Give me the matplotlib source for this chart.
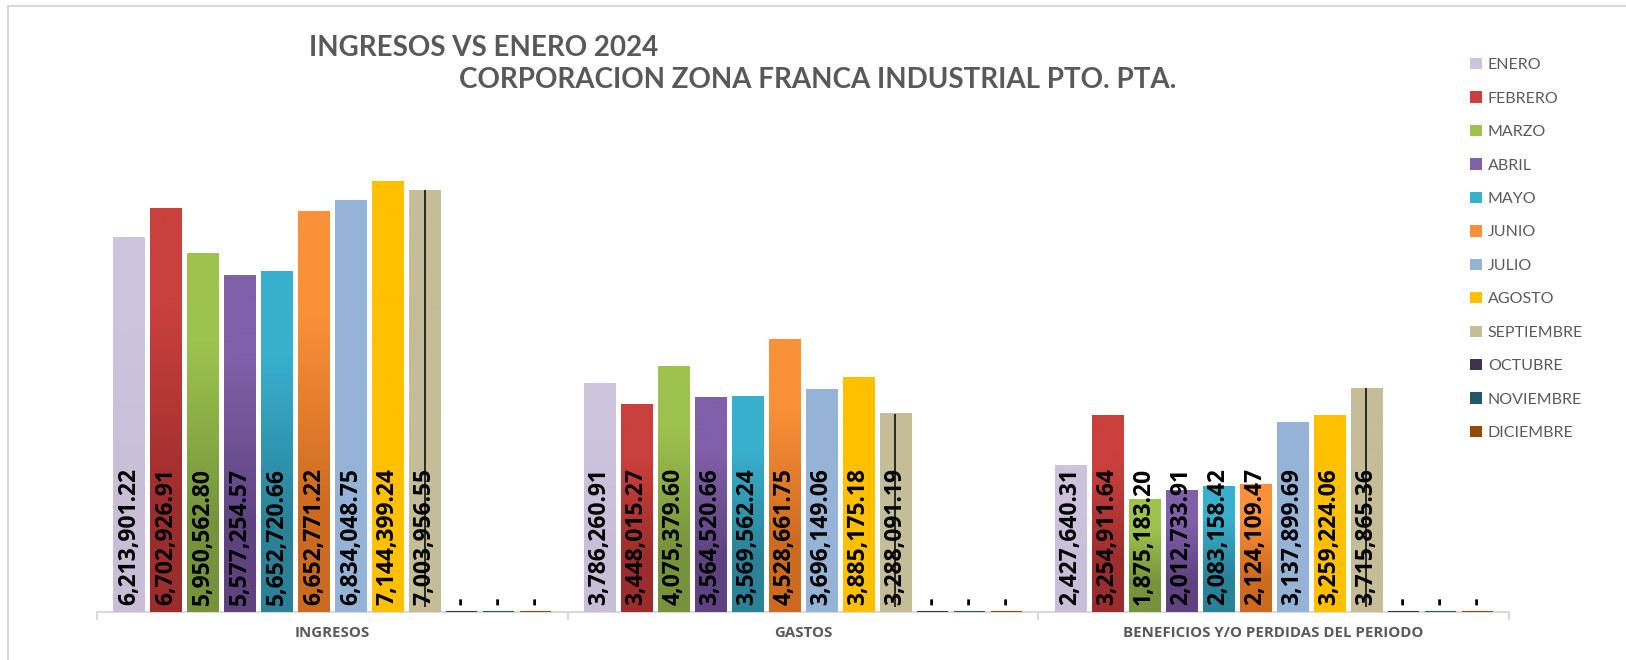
import matplotlib
matplotlib.use("Agg")
import matplotlib.pyplot as plt
import numpy as np
from matplotlib.patches import Patch, Rectangle
from matplotlib.colors import to_rgb

# data
categorias = ["INGRESOS", "GASTOS", "BENEFICIOS Y/O PERDIDAS DEL PERIODO"]
meses = ["ENERO", "FEBRERO", "MARZO", "ABRIL", "MAYO", "JUNIO", "JULIO",
         "AGOSTO", "SEPTIEMBRE", "OCTUBRE", "NOVIEMBRE", "DICIEMBRE"]
ingresos = [6213901.22, 6702926.91, 5950562.80, 5577254.57, 5652720.66, 6652771.22,
            6834048.75, 7144399.24, 7003956.55, 0, 0, 0]
gastos = [3786260.91, 3448015.27, 4075379.60, 3564520.66, 3569562.24, 4528661.75,
          3696149.06, 3885175.18, 3288091.19, 0, 0, 0]
beneficios = [2427640.31, 3254911.64, 1875183.20, 2012733.91, 2083158.42, 2124109.47,
              3137899.69, 3259224.06, 3715865.36, 0, 0, 0]

# (top, bottom) gradient colours per month
colores = [("#CDC3DD", "#C8BED8"), ("#C9403D", "#9B2D2C"), ("#9DC34E", "#76933C"),
           ("#8060A8", "#5E4380"), ("#38AFCD", "#2A8198"), ("#FA9139", "#CC6A20"),
           ("#95B3D7", "#95B3D7"), ("#FFC000", "#FFC000"), ("#C4BD97", "#C4BD97"),
           ("#403151", "#403151"), ("#215968", "#215968"), ("#984807", "#984807")]

GRIS = "#595959"
LINEA = "#D9D9D9"
plt.rcParams["font.family"] = ["Lato", "DejaVu Sans"]
ETIQ = ["Liberation Sans Narrow", "Open Sans", "DejaVu Sans"]

W, H = 1626, 660
fig = plt.figure(figsize=(W / 100, H / 100), dpi=100)
ax = fig.add_axes([97 / W, 48 / H, (1509 - 97) / W, 482 / H])

series = np.array([ingresos, gastos, beneficios])
n = len(meses)
paso = 0.0786
ancho = 0.0659
x0 = np.arange(len(categorias))

for i, mes in enumerate(meses):
    xs = x0 + (i - (n - 1) / 2) * paso
    vals = series[:, i]
    top, bot = colores[i]
    vacio = vals.max() == 0
    bars = ax.bar(xs, vals, width=ancho, color=top, edgecolor=top,
                  linewidth=1.5 if vacio else 0, zorder=6 if vacio else 2)
    grad = np.array([[to_rgb(top)], [to_rgb(bot)]])
    for b in bars:
        if b.get_height() > 0:
            ax.imshow(grad, extent=[b.get_x(), b.get_x() + b.get_width(), 0, b.get_height()],
                      aspect="auto", interpolation="bilinear", zorder=3)
    if mes == "SEPTIEMBRE":
        ax.vlines(xs, 0.08e6, vals, color="black", linewidth=1.1, zorder=4)
    for x, v in zip(xs, vals):
        txt = "-" if v == 0 else f"{v:,.2f}"
        ax.annotate(txt, xy=(x, 0), xytext=(0, 5), textcoords="offset points",
                    rotation=90, ha="center", va="bottom", fontsize=16.5,
                    fontweight="bold", color="black", family=ETIQ, zorder=5)

ax.set_xlim(-0.5, len(categorias) - 0.5)
ax.set_ylim(0, 8e6)
ax.set_xticks(x0)
ax.set_xticklabels(categorias, fontsize=10.8, fontweight="bold", color=GRIS,
                   family=["Open Sans", "DejaVu Sans"])
ax.set_xticks(np.arange(-0.5, len(categorias)), minor=True)
ax.tick_params(axis="x", which="major", length=0, pad=10)
ax.tick_params(axis="x", which="minor", length=6, width=1.5, color=LINEA)
ax.set_yticks([])
for s in ["top", "right", "left"]:
    ax.spines[s].set_visible(False)
ax.spines["bottom"].set_color(LINEA)
ax.spines["bottom"].set_linewidth(1.5)

fig.text(309 / W, 1 - 48 / H, "INGRESOS VS ENERO 2024", fontsize=20,
         fontweight="bold", color=GRIS, va="center", ha="left")
fig.text(459 / W, 1 - 80 / H, "CORPORACION ZONA FRANCA INDUSTRIAL PTO. PTA.",
         fontsize=20, fontweight="bold", color=GRIS, va="center", ha="left")

handles = [Patch(facecolor=c[0], edgecolor="none") for c in colores]
fig.legend(handles, meses, loc="upper left", bbox_to_anchor=(1470 / W, 1 - 58 / H),
           frameon=False, fontsize=11.5, labelcolor=GRIS, handlelength=0.72,
           handleheight=0.72, handletextpad=0.4, labelspacing=1.2, borderpad=0,
           borderaxespad=0)

fig.patches.append(Rectangle((8 / W, -0.1), 1.2, 1.1 - 6 / H, transform=fig.transFigure,
                             facecolor="none", edgecolor=LINEA, linewidth=1.5))

fig.savefig("out.png", dpi=100)
